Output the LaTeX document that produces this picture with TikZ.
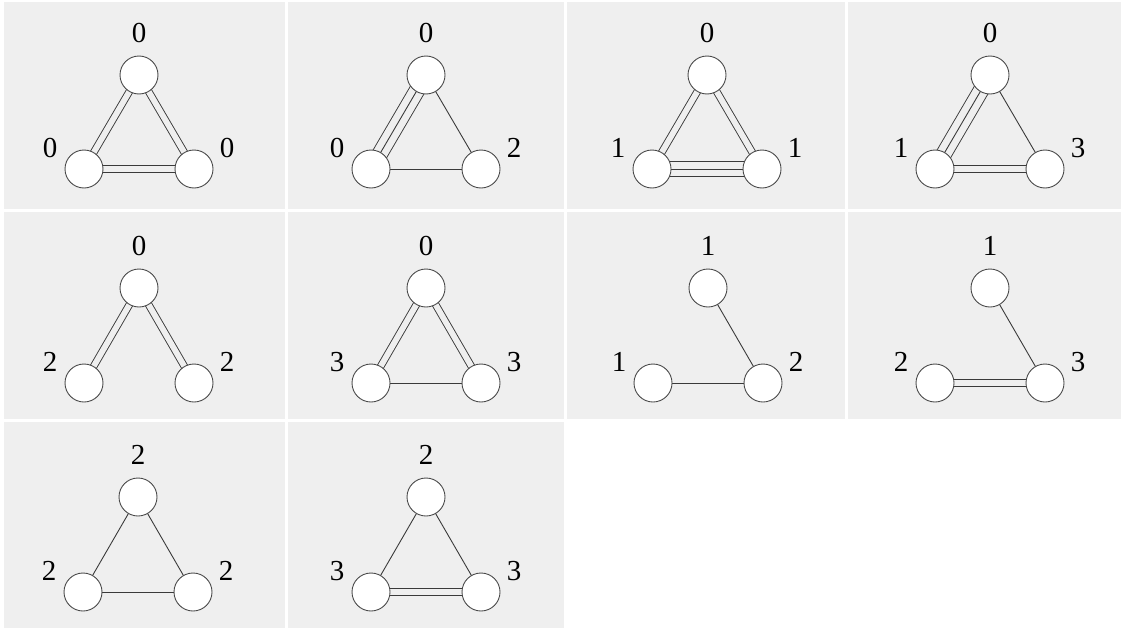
\documentclass[tikz,border=0pt]{standalone}
\usepackage{fontspec}
\setmainfont{Liberation Serif}
\definecolor{panelbg}{HTML}{EFEFEF}
\definecolor{linecol}{HTML}{3A3A3A}
\definecolor{circlecol}{HTML}{4A4A4A}
\pgfdeclarelayer{panel}
\pgfdeclarelayer{edges}
\pgfsetlayers{panel,edges,main}
\tikzset{
  vtx/.style={circle, draw=circlecol, line width=0.9pt, fill=white, minimum size=38pt, inner sep=0pt},
  lab/.style={font=\fontsize{29}{34}\selectfont, inner sep=0pt, text=black},
  panelbox/.style={fill=panelbg, draw=none},
  eone/.style={draw=linecol, line width=0.9pt},
  etwo/.style={draw=linecol, line width=0.9pt, double=panelbg, double distance=5.8pt},
  ethreeout/.style={draw=linecol, line width=0.9pt, double=panelbg, double distance=14.6pt},
}
\newcommand{\tri}[7]{%
  \node[vtx] (#1t) at (#2,#3) {};
  \node[vtx] (#1l) at (#2-55,#4) {};
  \node[vtx] (#1r) at (#2+55,#4) {};
  \node[lab] (#1tl) at (#2,#3-42) {#5};
  \node[lab] (#1ll) at (#2-89,#4-21) {#6};
  \node[lab] (#1rl) at (#2+88,#4-21) {#7};
}
\newcommand{\eOne}[2]{\draw[eone] (#1.center) -- (#2.center);}
\newcommand{\eTwo}[2]{\draw[etwo] (#1.center) -- (#2.center);}
\newcommand{\eThree}[2]{\draw[ethreeout] (#1.center) -- (#2.center); \draw[eone] (#1.center) -- (#2.center);}
\begin{document}
\begin{tikzpicture}[x=1pt, y=-1pt]
\useasboundingbox (0,0) rectangle (1121,629);
\begin{pgfonlayer}{panel}
  \fill[white] (0,0) rectangle (1121,629);
  \foreach \xa/\xb in {4/285, 288/564, 567/845, 848/1121} {
    \foreach \ya/\yb in {2/209, 212/419} {
      \fill[panelbox] (\xa,\ya) rectangle (\xb,\yb);
    }
  }
  \fill[panelbox] (4,422) rectangle (285,628);
  \fill[panelbox] (288,422) rectangle (564,628);
\end{pgfonlayer}

\tri{pa}{139}{75}{169}{0}{0}{0}
\tri{pb}{426}{75}{169}{0}{0}{2}
\tri{pc}{707}{75}{169}{0}{1}{1}
\tri{pd}{990}{75}{169}{0}{1}{3}
\tri{pe}{139}{288}{383}{0}{2}{2}
\tri{pf}{426}{288}{383}{0}{3}{3}
\tri{pg}{708}{288}{383}{1}{1}{2}
\tri{ph}{990}{288}{383}{1}{2}{3}
\tri{pi}{138}{497}{592}{2}{2}{2}
\tri{pj}{426}{497}{592}{2}{3}{3}

\begin{pgfonlayer}{edges}
  \eTwo{pat}{pal} \eTwo{pat}{par} \eTwo{pal}{par}
  \eThree{pbt}{pbl} \eOne{pbt}{pbr} \eOne{pbl}{pbr}
  \eTwo{pct}{pcl} \eTwo{pct}{pcr} \eThree{pcl}{pcr}
  \eThree{pdt}{pdl} \eOne{pdt}{pdr} \eTwo{pdl}{pdr}
  \eTwo{pet}{pel} \eTwo{pet}{per}
  \eTwo{pft}{pfl} \eTwo{pft}{pfr} \eOne{pfl}{pfr}
  \eOne{pgt}{pgr} \eOne{pgl}{pgr}
  \eOne{pht}{phr} \eTwo{phl}{phr}
  \eOne{pit}{pil} \eOne{pit}{pir} \eOne{pil}{pir}
  \eOne{pjt}{pjl} \eOne{pjt}{pjr} \eTwo{pjl}{pjr}
\end{pgfonlayer}
\end{tikzpicture}
\end{document}
